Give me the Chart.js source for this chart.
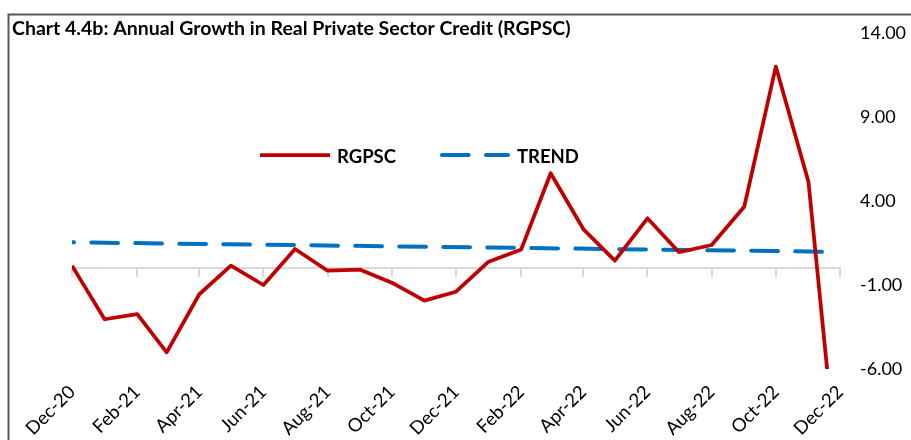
<!DOCTYPE html>
<html>
<head>
<meta charset="utf-8">
<script src="https://cdn.jsdelivr.net/npm/chart.js@4.4.1/dist/chart.umd.min.js"></script>
<style>
  html, body { margin: 0; padding: 0; background: #ffffff; }
  #wrap { position: relative; width: 911px; height: 440px; overflow: hidden; }
  canvas { display: block; }
</style>
</head>
<body>
<div id="wrap"><canvas id="c" width="911" height="440"></canvas></div>
<script>
// ---------------- data ----------------
const chartTitle = 'Chart 4.4b: Annual Growth in Real Private Sector Credit (RGPSC)';

const seriesDates = [
  '2020-12-01', '2021-01-01', '2021-02-01', '2021-03-01', '2021-04-01', '2021-05-01',
  '2021-06-01', '2021-07-01', '2021-08-01', '2021-09-01', '2021-10-01', '2021-11-01',
  '2021-12-01', '2022-01-01', '2022-02-01', '2022-03-01', '2022-04-01', '2022-05-01',
  '2022-06-01', '2022-07-01', '2022-08-01', '2022-09-01', '2022-10-01', '2022-11-01',
  '2022-11-19'
];
const rgpscValues = [
  0.15, -3.04, -2.73, -5.01, -1.55, 0.15,
  -1.00, 1.14, -0.15, -0.09, -0.86, -1.93,
  -1.40, 0.39, 1.12, 5.65, 2.33, 0.45,
  2.97, 0.95, 1.38, 3.66, 12.00, 5.15,
  -6.15
];

const trendDates = ['2020-12-01', '2022-11-19'];
const trendValues = [1.54, 0.98];

const tickDates = [
  '2020-12-01', '2021-02-01', '2021-04-01', '2021-06-01', '2021-08-01', '2021-10-01',
  '2021-12-01', '2022-02-01', '2022-04-01', '2022-06-01', '2022-08-01', '2022-10-01',
  '2022-12-01'
];
const tickLabels = [
  'Dec-20', 'Feb-21', 'Apr-21', 'Jun-21', 'Aug-21', 'Oct-21',
  'Dec-21', 'Feb-22', 'Apr-22', 'Jun-22', 'Aug-22', 'Oct-22',
  'Dec-22'
];
const seriesLabels = ['RGPSC', 'TREND'];
const yMin = -6, yMax = 14, yStep = 5;

// ---------------- helpers ----------------
const DAY = 86400000;
const toDay = s => Math.round((Date.parse(s) - Date.parse(tickDates[0])) / DAY);
const tickDays = tickDates.map(toDay);
const xMin = tickDays[0];
const xMax = tickDays[tickDays.length - 1];

const FONT = 'Lato';

const framePlugin = {
  id: 'frame',
  beforeDraw(chart) {
    const c = chart.ctx;
    c.save();
    c.fillStyle = '#ffffff';
    c.fillRect(0, 0, chart.width, chart.height);
    c.strokeStyle = '#595959';
    c.lineWidth = 2;
    c.beginPath();
    c.moveTo(8.5, chart.height + 2);
    c.lineTo(8.5, 14.5);
    c.lineTo(chart.width + 2, 14.5);
    c.stroke();
    c.restore();
  },
  afterDraw(chart) {
    const c = chart.ctx;
    c.save();
    // title
    c.fillStyle = '#000000';
    c.font = 'bold 19.5px ' + FONT;
    c.textAlign = 'left';
    c.textBaseline = 'alphabetic';
    c.fillText(chartTitle, 12, 35);

    // legend
    c.font = 'bold 18.5px ' + FONT;
    let x = 260;
    const ly = 155;
    chart.data.datasets.forEach(ds => {
      c.save();
      c.strokeStyle = ds.borderColor;
      c.lineWidth = ds.borderWidth;
      c.lineCap = ds.borderCapStyle || 'butt';
      c.setLineDash(ds.borderDash || []);
      c.lineDashOffset = 0;
      const cap = (ds.borderCapStyle === 'round') ? ds.borderWidth / 2 : 0;
      c.beginPath();
      c.moveTo(x + cap, ly);
      c.lineTo(x + 70 - cap, ly);
      c.stroke();
      c.restore();
      c.fillStyle = '#000000';
      c.fillText(ds.label, x + 77, 162.5);
      x = x + 77 + c.measureText(ds.label).width + 44;
    });
    c.restore();
  }
};

function draw() {
  const ctx = document.getElementById('c').getContext('2d');
  Chart.defaults.font.family = FONT;
  new Chart(ctx, {
    type: 'line',
    data: {
      datasets: [
        {
          label: seriesLabels[0],
          data: seriesDates.map((d, i) => ({ x: toDay(d), y: rgpscValues[i] })),
          borderColor: '#C00000',
          backgroundColor: '#C00000',
          borderWidth: 3.75,
          borderJoinStyle: 'round',
          borderCapStyle: 'butt',
          pointRadius: 0,
          tension: 0,
          fill: false
        },
        {
          label: seriesLabels[1],
          data: trendDates.map((d, i) => ({ x: toDay(d), y: trendValues[i] })),
          borderColor: '#0070C0',
          backgroundColor: '#0070C0',
          borderWidth: 4,
          borderDash: [26.7, 17.3],
          borderDashOffset: 24.7,
          borderCapStyle: 'round',
          pointRadius: 0,
          tension: 0,
          fill: false
        }
      ]
    },
    options: {
      responsive: false,
      animation: false,
      devicePixelRatio: 1,
      layout: { padding: { left: 72, top: 33, right: 0, bottom: 0 } },
      plugins: {
        legend: { display: false },
        title: { display: false },
        tooltip: { enabled: false }
      },
      scales: {
        x: {
          type: 'linear',
          axis: 'x',
          min: xMin,
          max: xMax,
          position: { y: 0 },
          afterBuildTicks: s => { s.ticks = tickDays.map(v => ({ value: v })); },
          ticks: { display: false },
          grid: { display: true, drawOnChartArea: false, drawTicks: true, tickLength: 8, color: '#d9d9d9', lineWidth: 2 },
          border: { display: true, color: '#d9d9d9', width: 2 }
        },
        x2: {
          type: 'linear',
          axis: 'x',
          min: xMin,
          max: xMax,
          position: 'bottom',
          afterBuildTicks: s => { s.ticks = tickDays.map(v => ({ value: v })); },
          ticks: {
            autoSkip: false,
            maxRotation: 45,
            minRotation: 45,
            padding: 12,
            color: '#000000',
            font: { family: FONT, size: 18.5 },
            callback: (v, i) => tickLabels[i]
          },
          grid: { display: false, drawTicks: false },
          border: { display: false },
          afterFit: s => { s.height = 71; }
        },
        y: {
          type: 'linear',
          position: 'right',
          min: yMin,
          max: yMax,
          ticks: {
            stepSize: yStep,
            padding: 20,
            color: '#000000',
            font: { family: FONT, size: 18 },
            callback: v => Number(v).toFixed(2)
          },
          grid: { display: false, drawTicks: false },
          border: { display: false },
          afterFit: s => { s.width = 71; }
        }
      }
    },
    plugins: [framePlugin]
  });
}

if (document.fonts && document.fonts.load) {
  Promise.all([
    document.fonts.load('18px ' + FONT),
    document.fonts.load('bold 18px ' + FONT)
  ]).then(draw, draw);
} else {
  draw();
}
</script>
</body>
</html>
